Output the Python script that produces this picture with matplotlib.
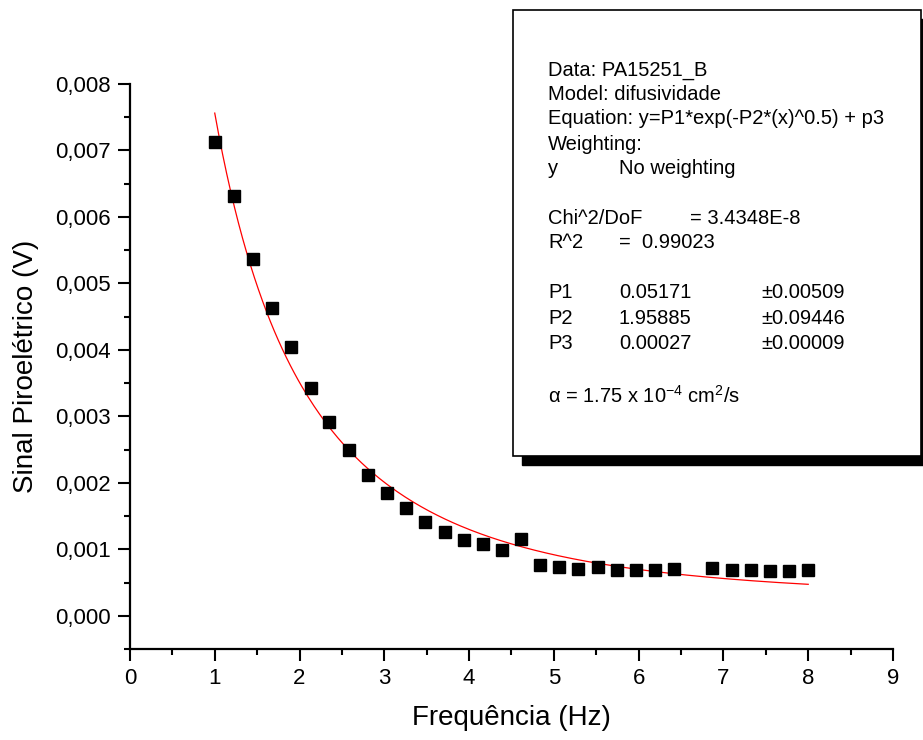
import numpy as np
import matplotlib
matplotlib.use('Agg')
from matplotlib import pyplot as plt
from matplotlib.patches import Rectangle
from matplotlib.ticker import FuncFormatter, MultipleLocator

plt.rcParams['font.family'] = ['Liberation Sans', 'DejaVu Sans']
plt.rcParams['mathtext.default'] = 'regular'

# measured points
freq = [1.00, 1.23, 1.45, 1.68, 1.90, 2.13, 2.35, 2.58, 2.81, 3.03,
        3.26, 3.48, 3.71, 3.94, 4.16, 4.39, 4.61, 4.84, 5.06, 5.29,
        5.52, 5.74, 5.97, 6.19, 6.42, 6.87, 7.10, 7.32, 7.55, 7.77, 8.00]
signal = [0.00712, 0.00631, 0.00537, 0.00463, 0.00404, 0.00342, 0.00291, 0.00249, 0.00211, 0.00184,
          0.00162, 0.00141, 0.00126, 0.00114, 0.00108, 0.00099, 0.00115, 0.00077, 0.00074, 0.00070,
          0.00073, 0.00069, 0.00069, 0.00069, 0.00070, 0.00072, 0.00069, 0.00069, 0.00068, 0.00068, 0.00069]

# fit parameters shown in the box
P1 = 0.05171
P2 = 1.95885
P3 = 0.00027

xfit = np.linspace(min(freq), max(freq), 300)
yfit = P1 * np.exp(-P2 * xfit ** 0.5) + P3

fig = plt.figure(figsize=(9.23, 7.4), dpi=100)
ax = fig.add_axes([0.1408, 0.123, 0.8267, 0.7635])

ax.plot(freq, signal, 's', color='black', ms=8, zorder=3)
ax.plot(xfit, yfit, color='red', lw=0.9, zorder=2)

ax.set_xlim(0, 9)
ax.set_ylim(-0.0005, 0.008)
ax.xaxis.set_major_locator(MultipleLocator(1))
ax.xaxis.set_minor_locator(MultipleLocator(0.5))
ax.yaxis.set_major_locator(MultipleLocator(0.001))
ax.yaxis.set_minor_locator(MultipleLocator(0.0005))
ax.yaxis.set_major_formatter(FuncFormatter(lambda v, p: f'{v:.3f}'.replace('.', ',').replace('-0,000', '0,000')))

for s in ['top', 'right']:
    ax.spines[s].set_visible(False)
for s in ['left', 'bottom']:
    ax.spines[s].set_linewidth(1.6)
ax.tick_params(which='major', direction='out', length=8.5, width=1.5, labelsize=16, pad=5)
ax.tick_params(which='minor', direction='out', length=4.5, width=1.5)

ax.set_xlabel('Frequência (Hz)', fontsize=20, labelpad=12)
ax.set_ylabel('Sinal Piroelétrico (V)', fontsize=20, labelpad=12)

# fit info box with shadow
W, H = 923.0, 740.0
shadow = Rectangle((522 / W, (H - 465) / H), 420 / W, 446 / H, transform=fig.transFigure,
                   facecolor='black', edgecolor='black', zorder=10)
box = Rectangle((513 / W, (H - 456) / H), 408 / W, 446 / H, transform=fig.transFigure,
                facecolor='white', edgecolor='black', lw=1.2, zorder=11)
fig.add_artist(shadow)
fig.add_artist(box)

fs = 14.5
def txt(xp, yp, s):
    fig.text(xp / W, (H - yp) / H, s, fontsize=fs, va='center', ha='left', zorder=12)

txt(548, 70, 'Data: PA15251_B')
txt(548, 95, 'Model: difusividade')
txt(548, 119, 'Equation: y=P1*exp(-P2*(x)^0.5) + p3')
txt(548, 144, 'Weighting:')
txt(548, 169, 'y')
txt(619, 169, 'No weighting')
txt(548, 219, 'Chi^2/DoF')
txt(690, 219, '= 3.4348E-8')
txt(548, 243, 'R^2')
txt(619, 243, '=  0.99023')
rows = [('P1', '0.05171', '±0.00509'), ('P2', '1.95885', '±0.09446'), ('P3', '0.00027', '±0.00009')]
for i, (n, v, e) in enumerate(rows):
    yp = 293 + 25 * i
    txt(548, yp, n)
    txt(619, yp, v)
    txt(761, yp, e)
txt(548, 396, 'α = 1.75 x 10$^{-4}$ cm$^{2}$/s')

fig.savefig('out.png', dpi=100)
